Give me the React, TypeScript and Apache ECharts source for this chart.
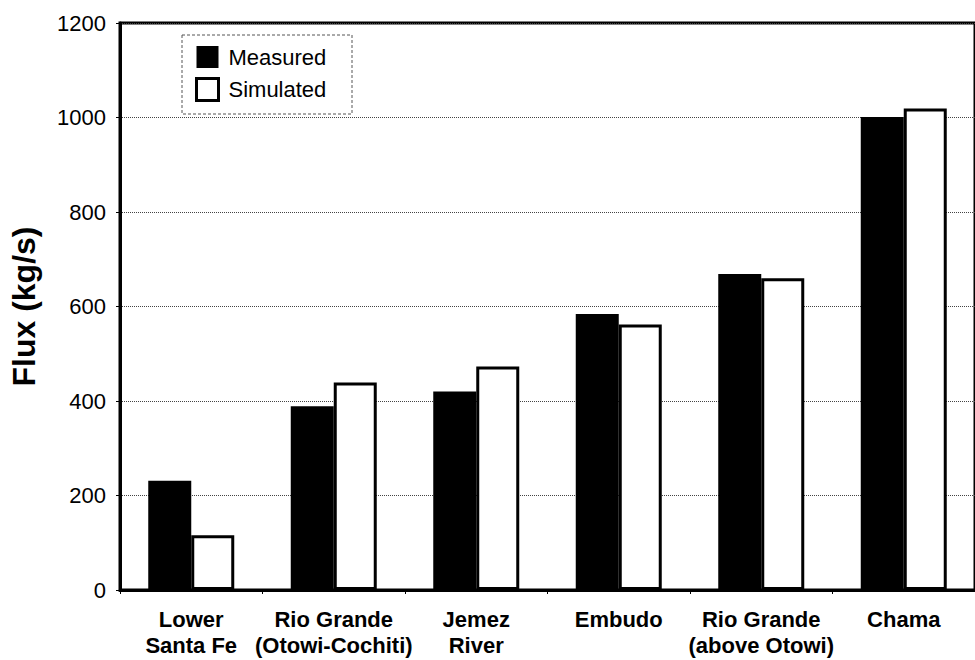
import React, { useEffect, useRef } from "react";
import * as echarts from "echarts";

const categories = [
  "Lower\nSanta Fe",
  "Rio Grande\n(Otowi-Cochiti)",
  "Jemez\nRiver",
  "Embudo",
  "Rio Grande\n(above Otowi)",
  "Chama",
];
const measured = [231, 389, 420, 584, 669, 1001];
const simulated = [116, 439, 473, 562, 660, 1019];
const yTicks = { min: 0, max: 1200, interval: 200 };

const FONT = "'Liberation Sans', Arial, Helvetica, sans-serif";

export default function App() {
  const ref = useRef<HTMLDivElement>(null);
  useEffect(() => {
    if (!ref.current) return;
    const chart = echarts.init(ref.current, undefined, { renderer: "svg" });
    chart.setOption({
      animation: false,
      backgroundColor: "#ffffff",
      grid: {
        left: 117,
        top: 23,
        width: 864,
        height: 567,
        show: true,
        borderColor: "#000",
        borderWidth: 3,
        backgroundColor: "transparent",
      },
      legend: {
        left: 182,
        top: 35,
        orient: "vertical",
        padding: [11, 24, 11, 13],
        itemGap: 9,
        itemWidth: 22,
        itemHeight: 22,
        icon: "rect",
        textStyle: { fontFamily: FONT, fontSize: 22, color: "#000", padding: [0, 0, 0, 5] },
        data: [
          { name: "Measured", itemStyle: { color: "#000", borderColor: "#000", borderWidth: 0 } },
          { name: "Simulated", itemStyle: { color: "#fff", borderColor: "#000", borderWidth: 3 } },
        ],
      },
      graphic: [
        {
          type: "rect",
          shape: { x: 182, y: 35, width: 170, height: 79 },
          style: { fill: "none", stroke: "#555", lineWidth: 1, lineDash: [3, 2] },
          z: 10,
        },
      ],
      xAxis: {
        type: "category",
        data: categories,
        axisLine: { show: true, lineStyle: { color: "#000", width: 3 } },
        axisTick: { show: true, length: 4, lineStyle: { color: "#000", width: 1 } },
        axisLabel: {
          fontFamily: FONT,
          fontSize: 22,
          fontWeight: "bold",
          color: "#000",
          lineHeight: 26,
          margin: 16,
          interval: 0,
        },
        splitLine: { show: false },
      },
      yAxis: {
        type: "value",
        min: yTicks.min,
        max: yTicks.max,
        interval: yTicks.interval,
        name: "Flux (kg/s)",
        nameLocation: "middle",
        nameRotate: 90,
        nameGap: 80,
        nameTextStyle: { fontFamily: FONT, fontSize: 32, fontWeight: "bold", color: "#000" },
        axisLine: { show: true, lineStyle: { color: "#000", width: 3 } },
        axisTick: { show: true, length: 4, lineStyle: { color: "#000", width: 1 } },
        axisLabel: {
          fontFamily: FONT,
          fontSize: 22,
          color: "#000",
          margin: 14,
          formatter: (v: number) => String(v),
        },
        splitLine: { show: true, lineStyle: { color: "#444", width: 1, type: "dotted" } },
      },
      series: [
        {
          name: "Measured",
          type: "bar",
          data: measured,
          barWidth: 43,
          barGap: "0%",
          itemStyle: { color: "#000", borderColor: "#000", borderWidth: 0 },
        },
        {
          name: "Simulated",
          type: "bar",
          data: simulated,
          barWidth: 43,
          barGap: "0%",
          itemStyle: { color: "#fff", borderColor: "#000", borderWidth: 3 },
        },
      ],
    });
    return () => chart.dispose();
  }, []);
  return (
    <div
      ref={ref}
      style={{ position: "fixed", left: 0, top: 0, width: 975, height: 660 }}
    />
  );
}
